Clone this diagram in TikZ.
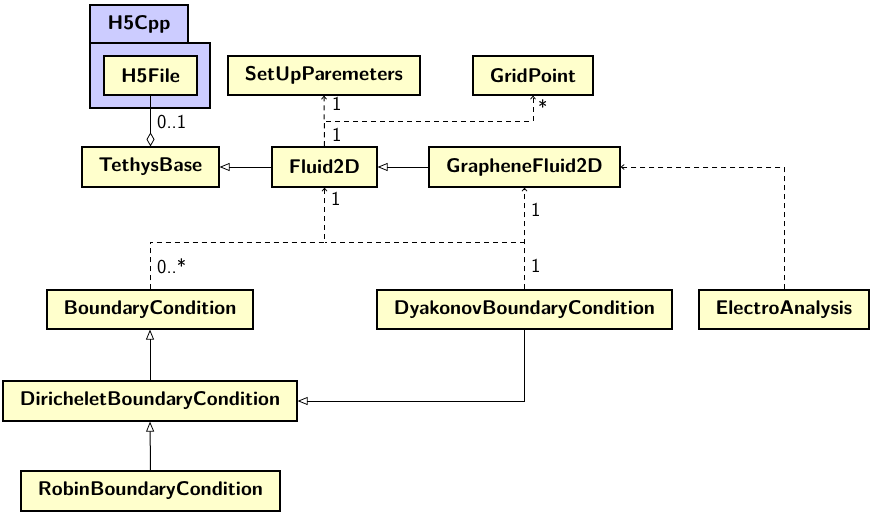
\documentclass[tikz,border=0pt]{standalone}
\usetikzlibrary{arrows.meta}
\definecolor{clsfill}{HTML}{FFFFCC}
\definecolor{pkgfill}{HTML}{CCCCFF}
\begin{document}
\begin{tikzpicture}[x=1pt,y=-1pt,
  cls/.style={draw, fill=clsfill, line width=1.2pt, inner sep=0pt, anchor=center,
    font=\sffamily\bfseries\fontsize{19.8}{23}\selectfont},
  pkg/.style={draw, fill=pkgfill, line width=1.2pt, inner sep=0pt, anchor=center,
    font=\sffamily\bfseries\fontsize{19.8}{23}\selectfont},
  lbl/.style={inner sep=0pt, anchor=west, font=\sffamily\fontsize{19.8}{23}\selectfont},
  inh/.style={line width=1pt, -{Triangle[open,length=10pt,width=8pt,line width=0.8pt]}},
  dep/.style={line width=1pt, dash pattern=on 5pt off 4pt, -{Straight Barb[length=3pt,width=5pt,line width=0.8pt]}},
  depl/.style={line width=1pt, dash pattern=on 5pt off 4pt},
  agg/.style={line width=1pt, -{Diamond[open,length=14pt,width=8pt,line width=0.8pt]}}
]
\useasboundingbox (0,0) rectangle (874,527);
% package
\node[pkg, minimum width=120pt, minimum height=65pt] (h5body) at (150,75.5) {};
\node[pkg, minimum width=98pt, minimum height=38pt] (h5tab) at (139,24) {H5Cpp};
% classes
\node[cls, minimum width=93pt, minimum height=39pt] (h5file) at (150.5,75.5) {H5File};
\node[cls, minimum width=192pt, minimum height=39pt] (setup) at (324,75.5) {SetUpParemeters};
\node[cls, minimum width=120pt, minimum height=39pt] (grid) at (533,75.5) {GridPoint};
\node[cls, minimum width=137pt, minimum height=40pt] (tethys) at (150.5,167) {TethysBase};
\node[cls, minimum width=105pt, minimum height=40pt] (fluid) at (324.5,167) {Fluid2D};
\node[cls, minimum width=191pt, minimum height=40pt] (graphene) at (524.5,167) {GrapheneFluid2D};
\node[cls, minimum width=206pt, minimum height=39pt] (bc) at (150,309.5) {BoundaryCondition};
\node[cls, minimum width=295pt, minimum height=39pt] (dyak) at (524.5,309.5) {DyakonovBoundaryCondition};
\node[cls, minimum width=170pt, minimum height=39pt] (electro) at (784,309.5) {ElectroAnalysis};
\node[cls, minimum width=294pt, minimum height=40pt] (dir) at (150,401) {DiricheletBoundaryCondition};
\node[cls, minimum width=259pt, minimum height=40pt] (robin) at (150.5,491) {RobinBoundaryCondition};
% rows
\coordinate (r1) at (0,121);
\coordinate (r2) at (0,242);
% connectors
\draw[agg] (h5file.south) -- (tethys.north);
\draw[inh] (fluid.west) -- (tethys.east);
\draw[inh] (graphene.west) -- (fluid.east);
\draw[dep] (fluid.north) -- (setup.south);
\draw[dep] (fluid.north) -- (fluid.north |- r1) -| (grid.south);
\draw[dep] (bc.north) -- (bc.north |- r2) -| (fluid.south);
\draw[depl] (dyak.north |- r2) -- (fluid.south |- r2);
\draw[dep] (dyak.north) -- (graphene.south);
\draw[dep] (electro.north) |- (graphene.east);
\draw[inh] (dir.north) -- (bc.south);
\draw[inh] (robin.north) -- (dir.south);
\draw[inh] (dyak.south) |- (dir.east);
% labels
\node[lbl] (l01) at (157,122) {0..1};
\node[lbl] (ls1) at (332,104) {1};
\node[lbl] (lf1) at (332,135) {1};
\node[lbl] (lg) at (538,107) {*};
\node[lbl] (lfb) at (331,199) {1};
\node[lbl] (lbc) at (157,266) {0..*};
\node[lbl] (lgb) at (531,210) {1};
\node[lbl] (ldy) at (531,266) {1};
\end{tikzpicture}
\end{document}
